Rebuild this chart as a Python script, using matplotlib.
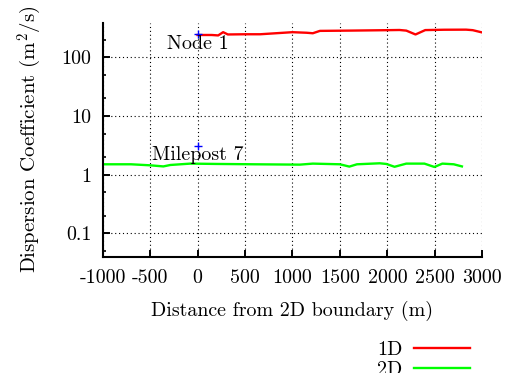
import matplotlib
matplotlib.use("Agg")
import matplotlib.pyplot as plt
from matplotlib.lines import Line2D

# ---- data ----
x_1d = [0, 150, 218, 270, 320, 500, 660, 1000, 1150, 1215, 1290, 1600, 2000, 2129, 2200, 2297, 2400, 2600, 2830, 2900, 3000]
y_1d = [240, 240, 236, 268, 245, 247, 247, 268, 262, 257, 282, 285, 290, 292, 285, 245, 291, 295, 296, 290, 265]

x_2d = [-1000, -700, -496, -360, -286, -76, 200, 600, 1079, 1215, 1500, 1600, 1680, 1920, 1990, 2076, 2200, 2391, 2496, 2580, 2700, 2786]
y_2d = [1.50, 1.50, 1.44, 1.38, 1.46, 1.54, 1.52, 1.50, 1.48, 1.54, 1.50, 1.37, 1.50, 1.56, 1.52, 1.36, 1.54, 1.54, 1.35, 1.54, 1.50, 1.38]

marker_x = [0, 0]
marker_y = [247, 3.05]
marker_labels = ["Node 1", "Milepost 7"]
label_y = [168, 2.13]

xticks = [-1000, -500, 0, 500, 1000, 1500, 2000, 2500, 3000]
xticklabels = ["-1000", "-500", "0", "500", "1000", "1500", "2000", "2500", "3000"]
yticks = [0.1, 1, 10, 100]
yticklabels = ["0.1", "1", "10", "100"]
yminor = [0.05, 0.2, 0.5, 2, 5, 20, 50, 200]
series_names = ["1D", "2D"]
series_colors = ["#ff0000", "#00ff00"]

plt.rcParams['font.family'] = ['cmr10', 'DejaVu Serif']
plt.rcParams['mathtext.fontset'] = 'cm'
plt.rcParams['axes.unicode_minus'] = False
fs = 14.4

fig = plt.figure(figsize=(5.13, 3.73), dpi=100)
ax = fig.add_axes([0.200, 0.312, 0.740, 0.627])

ax.plot(x_1d, y_1d, color=series_colors[0], lw=1.7, solid_joinstyle='round')
ax.plot(x_2d, y_2d, color=series_colors[1], lw=1.7, solid_joinstyle='round')
ax.plot(marker_x, marker_y, linestyle='none', marker='+', color='blue', ms=6, mew=1.0)
for xm, yl, t in zip(marker_x, label_y, marker_labels):
    ax.text(xm, yl, t, ha='center', va='center', fontsize=fs)

ax.set_yscale('log')
ax.set_xlim(-1000, 3000)
ax.set_ylim(0.04, 388)
ax.set_xticks(xticks)
ax.set_xticklabels(xticklabels)
ax.set_yticks(yticks)
ax.set_yticklabels(yticklabels)
ax.set_yticks(yminor, minor=True)
ax.yaxis.set_minor_formatter(plt.NullFormatter())

for s in ['top', 'right']:
    ax.spines[s].set_visible(False)
for s in ['left', 'bottom']:
    ax.spines[s].set_linewidth(1.5)
ax.tick_params(which='major', direction='in', length=5, width=1.4, labelsize=fs, pad=8)
ax.tick_params(which='minor', direction='in', length=2.5, width=1.2)
ax.tick_params(axis='x', pad=9)

ax.grid(True, which='major', color='black', linestyle=(0, (1, 2.5)), lw=0.8)

ax.set_xlabel("Distance from 2D boundary (m)", fontsize=fs, labelpad=10)
ax.set_ylabel("Dispersion Coefficient (m$^2$/s)", fontsize=15, labelpad=13)

handles = [Line2D([], [], color=c, lw=1.7) for c in series_colors]
fig.legend(handles, series_names, loc='upper right', bbox_to_anchor=(0.917, 0.087),
           frameon=False, markerfirst=False, fontsize=fs, handlelength=2.8,
           handletextpad=0.6, labelspacing=0.12, borderpad=0, borderaxespad=0)

fig.savefig("out.png", dpi=100)
